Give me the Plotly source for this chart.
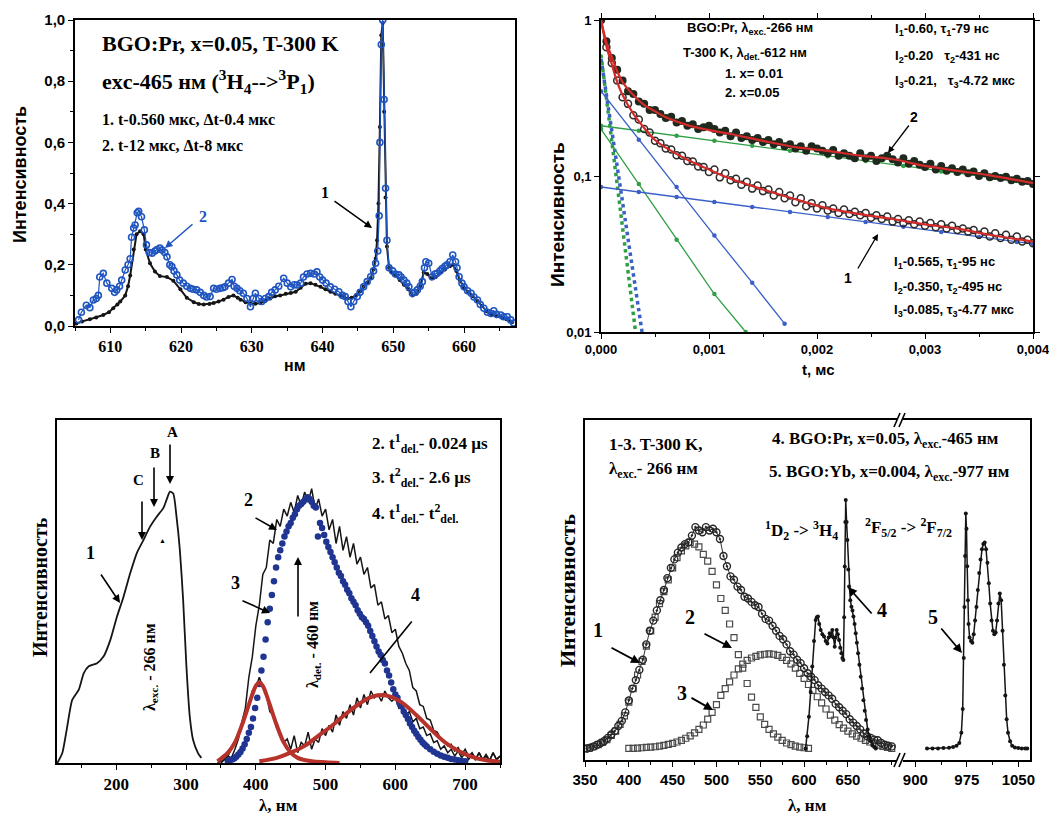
import plotly.graph_objects as go

W, H = 1057, 816
OFF = 8            # the page body margin shifts the figure by 8 px
FW, FH = W - OFF, H - OFF
def px(x): return (x - OFF) / FW
def py(y): return 1 - (y - OFF) / FH

SERIF = "Liberation Serif"
SANS = "Liberation Sans"

# ---------------- Panel 1 (top-left): time-resolved spectra ----------------
p1_xticks = [610, 620, 630, 640, 650, 660]
p1_yticks = [0.0, 0.2, 0.4, 0.6, 0.8, 1.0]
p1_yticklabels = ["0,0", "0,2", "0,4", "0,6", "0,8", "1,0"]
p1_curve1 = [(605.2,0.008),(606.0,0.015),(607.1,0.022),(608.0,0.028),(609.0,0.036),(609.8,0.045),(610.4,0.058),(611.0,0.07),(611.4,0.08),(612.1,0.10),(612.5,0.13),(612.8,0.165),(613.3,0.25),(613.7,0.30),(614.2,0.31),(614.7,0.30),(615.0,0.25),(615.6,0.205),(616.3,0.178),(617.0,0.163),(618.0,0.16),(618.9,0.148),(619.9,0.12),(620.8,0.092),(621.8,0.078),(622.5,0.072),(623.2,0.07),(624.0,0.072),(624.6,0.075),(625.3,0.08),(626.0,0.086),(626.7,0.095),(627.4,0.10),(628.0,0.092),(628.4,0.086),(629.1,0.078),(629.8,0.074),(630.5,0.073),(631.2,0.075),(631.9,0.082),(632.6,0.09),(633.3,0.097),(634.0,0.10),(634.8,0.105),(635.5,0.108),(636.2,0.112),(636.9,0.125),(637.6,0.138),(638.3,0.14),(639.0,0.135),(639.7,0.128),(640.4,0.12),(641.1,0.112),(641.8,0.105),(642.5,0.10),(643.0,0.095),(643.5,0.09),(644.1,0.092),(644.7,0.10),(645.3,0.113),(645.8,0.128),(646.3,0.142),(646.8,0.157),(647.2,0.185),(647.5,0.22),(647.7,0.28),(647.9,0.40),(648.1,0.65),(648.3,0.95),(648.5,0.99),(648.7,0.70),(648.9,0.42),(649.1,0.26),(649.4,0.19),(649.8,0.175),(650.3,0.165),(650.9,0.15),(651.5,0.135),(652.1,0.12),(652.7,0.10),(653.3,0.105),(653.8,0.13),(654.3,0.175),(654.8,0.17),(655.4,0.155),(656.0,0.16),(656.7,0.175),(657.3,0.185),(658.0,0.195),(658.5,0.20),(658.9,0.18),(659.4,0.15),(660.0,0.125),(660.6,0.11),(661.2,0.098),(661.9,0.082),(662.5,0.065),(663.2,0.048),(663.9,0.038),(664.6,0.032),(665.3,0.028),(666.0,0.022),(666.8,0.012)]
p1_curve2 = [(605.5,0.02),(605.9,0.045),(606.6,0.068),(607.1,0.06),(607.6,0.085),(608.0,0.09),(608.3,0.10),(608.5,0.16),(609.0,0.172),(609.5,0.14),(610.2,0.123),(610.6,0.11),(610.9,0.118),(611.3,0.13),(611.6,0.15),(612.1,0.183),(612.5,0.20),(612.8,0.22),(613.0,0.29),(613.3,0.32),(613.5,0.33),(613.8,0.37),(614.0,0.375),(614.4,0.357),(614.8,0.314),(615.1,0.265),(615.5,0.24),(615.9,0.238),(616.3,0.245),(616.6,0.25),(617.0,0.255),(617.3,0.248),(617.7,0.24),(618.0,0.226),(618.4,0.20),(618.7,0.194),(619.0,0.18),(619.4,0.167),(619.8,0.15),(620.3,0.14),(620.8,0.13),(621.3,0.123),(621.7,0.12),(622.2,0.118),(622.7,0.11),(623.2,0.10),(623.6,0.095),(624.1,0.096),(624.6,0.123),(625.0,0.12),(625.5,0.123),(625.9,0.125),(626.2,0.128),(626.7,0.14),(627.2,0.152),(627.5,0.13),(627.9,0.123),(628.3,0.115),(628.8,0.107),(629.3,0.09),(629.8,0.063),(630.2,0.09),(630.5,0.107),(631.0,0.09),(631.4,0.08),(631.9,0.09),(632.4,0.096),(632.8,0.11),(633.3,0.118),(633.8,0.13),(634.5,0.156),(635.0,0.14),(635.5,0.128),(636.0,0.135),(636.4,0.134),(636.9,0.14),(637.3,0.16),(637.8,0.17),(638.3,0.172),(638.8,0.17),(639.2,0.177),(639.6,0.16),(640.0,0.15),(640.5,0.14),(641.1,0.128),(641.7,0.12),(642.3,0.112),(642.8,0.10),(643.2,0.096),(643.6,0.08),(644.0,0.063),(644.4,0.08),(644.9,0.096),(645.3,0.11),(645.8,0.128),(646.3,0.145),(646.8,0.161),(647.2,0.18),(647.5,0.205),(647.8,0.245),(648.0,0.36),(648.1,0.60),(648.3,0.92),(648.5,1.0),(648.7,0.74),(648.9,0.45),(649.1,0.28),(649.4,0.19),(649.9,0.18),(650.3,0.17),(650.8,0.167),(651.1,0.16),(651.5,0.15),(651.9,0.14),(652.2,0.128),(652.7,0.107),(653.0,0.11),(653.4,0.118),(653.8,0.13),(654.1,0.145),(654.4,0.19),(654.6,0.21),(655.0,0.205),(655.5,0.161),(655.9,0.17),(656.2,0.172),(656.6,0.18),(656.9,0.188),(657.3,0.195),(657.6,0.20),(658.0,0.21),(658.4,0.232),(658.8,0.21),(659.0,0.19),(659.3,0.161),(659.7,0.14),(660.0,0.128),(660.5,0.115),(661.0,0.107),(661.4,0.095),(661.9,0.085),(662.3,0.07),(662.8,0.058),(663.3,0.045),(663.8,0.041),(664.2,0.05),(664.6,0.038),(665.2,0.036),(665.6,0.03),(666.1,0.03),(666.6,0.02),(667.0,0.01)]

# ---------------- Panel 2 (top-right): decay kinetics ----------------
p2_xticks = [0.0, 0.001, 0.002, 0.003, 0.004]
p2_xticklabels = ["0,000", "0,001", "0,002", "0,003", "0,004"]
p2_yticks = [0.01, 0.1, 1]
p2_yticklabels = ["0,01", "0,1", "1"]
p2_data_x005 = [(0.0,1.0),(0.00005,0.73),(0.0001,0.57),(0.00015,0.48),(0.0002,0.41),(0.00025,0.35),(0.0003,0.335),(0.00035,0.30),(0.0004,0.29),(0.00045,0.265),(0.0005,0.265),(0.00055,0.25),(0.0006,0.235),(0.00065,0.24),(0.0007,0.22),(0.00075,0.225),(0.0008,0.21),(0.00085,0.215),(0.0009,0.20),(0.00095,0.205),(0.001,0.21),(0.00105,0.20),(0.0011,0.19),(0.00115,0.195),(0.0012,0.18),(0.00125,0.19),(0.0013,0.175),(0.00135,0.18),(0.0014,0.17),(0.00145,0.175),(0.0015,0.165),(0.00155,0.17),(0.0016,0.16),(0.00165,0.165),(0.0017,0.155),(0.00175,0.16),(0.0018,0.15),(0.00185,0.155),(0.0019,0.145),(0.00195,0.155),(0.002,0.15),(0.00205,0.145),(0.0021,0.14),(0.00215,0.147),(0.0022,0.135),(0.00225,0.14),(0.0023,0.135),(0.00235,0.13),(0.0024,0.14),(0.00245,0.13),(0.0025,0.135),(0.00255,0.125),(0.0026,0.13),(0.00265,0.135),(0.0027,0.128),(0.00275,0.122),(0.0028,0.13),(0.00285,0.12),(0.0029,0.125),(0.00295,0.118),(0.003,0.114),(0.00305,0.12),(0.0031,0.11),(0.00315,0.116),(0.0032,0.108),(0.00325,0.112),(0.0033,0.106),(0.00335,0.11),(0.0034,0.104),(0.00345,0.107),(0.0035,0.1),(0.00355,0.104),(0.0036,0.098),(0.00365,0.1),(0.0037,0.097),(0.00375,0.099),(0.0038,0.094),(0.00385,0.096),(0.0039,0.092),(0.00395,0.093),(0.004,0.089)]
p2_data_x001 = [(0.0,1.0),(0.00005,0.67),(0.0001,0.53),(0.00015,0.41),(0.0002,0.32),(0.00025,0.29),(0.0003,0.245),(0.00035,0.23),(0.0004,0.20),(0.00045,0.19),(0.0005,0.168),(0.00055,0.162),(0.0006,0.15),(0.00065,0.148),(0.0007,0.136),(0.00075,0.135),(0.0008,0.125),(0.00085,0.124),(0.0009,0.115),(0.00095,0.114),(0.001,0.106),(0.00105,0.11),(0.0011,0.098),(0.00115,0.104),(0.0012,0.094),(0.00125,0.096),(0.0013,0.088),(0.00135,0.092),(0.0014,0.083),(0.00145,0.087),(0.0015,0.08),(0.00155,0.082),(0.0016,0.075),(0.00165,0.079),(0.0017,0.072),(0.00175,0.075),(0.0018,0.068),(0.00185,0.072),(0.0019,0.064),(0.00195,0.067),(0.002,0.062),(0.00205,0.065),(0.0021,0.06),(0.00215,0.062),(0.0022,0.058),(0.00225,0.061),(0.0023,0.057),(0.00235,0.059),(0.0024,0.056),(0.00245,0.058),(0.0025,0.054),(0.00255,0.056),(0.0026,0.053),(0.00265,0.055),(0.0027,0.051),(0.00275,0.053),(0.0028,0.05),(0.00285,0.052),(0.0029,0.049),(0.00295,0.051),(0.003,0.048),(0.00305,0.05),(0.0031,0.047),(0.00315,0.049),(0.0032,0.046),(0.00325,0.048),(0.0033,0.045),(0.00335,0.046),(0.0034,0.044),(0.00345,0.045),(0.0035,0.042),(0.00355,0.044),(0.0036,0.041),(0.00365,0.043),(0.0037,0.04),(0.00375,0.042),(0.0038,0.039),(0.00385,0.041),(0.0039,0.038),(0.00395,0.039),(0.004,0.037)]
p2_fit_t = [0, 0.00005, 0.0001, 0.00015, 0.0002, 0.0003, 0.0004, 0.0005, 0.0006, 0.0008, 0.001, 0.0012, 0.0015, 0.0018, 0.0021, 0.0024, 0.0027, 0.003, 0.0033, 0.0036, 0.004]
p2_fit_x005 = [1.0, 0.72, 0.58, 0.47, 0.40, 0.33, 0.285, 0.26, 0.238, 0.212, 0.197, 0.186, 0.168, 0.153, 0.145, 0.135, 0.128, 0.116, 0.108, 0.101, 0.090]
p2_fit_x001 = [1.0, 0.68, 0.52, 0.40, 0.33, 0.25, 0.203, 0.17, 0.152, 0.127, 0.11, 0.096, 0.082, 0.071, 0.062, 0.057, 0.053, 0.049, 0.046, 0.042, 0.038]
# decay components (x=0.05 green, x=0.01 blue)
p2_g1_t, p2_g1_v = [0.0, 0.00032], [0.60, 0.01]
p2_g2_t, p2_g2_v = [0.0, 0.00035, 0.0007, 0.00105, 0.00134], [0.20, 0.089, 0.039, 0.0175, 0.01]
p2_g3_t = [0.0, 0.00035, 0.0007, 0.00105, 0.0014, 0.00175, 0.0021, 0.00245, 0.0028, 0.00315, 0.0035, 0.00385, 0.004]
p2_g3_v = [0.21, 0.195, 0.181, 0.168, 0.156, 0.145, 0.134, 0.125, 0.116, 0.107, 0.1, 0.093, 0.091]
p2_b1_t, p2_b1_v = [0.0, 0.00038], [0.565, 0.01]
p2_b2_t, p2_b2_v = [0.0, 0.00035, 0.0007, 0.00105, 0.0014, 0.0017], [0.35, 0.171, 0.085, 0.0415, 0.0207, 0.0113]
p2_b3_t = [0.0, 0.00035, 0.0007, 0.00105, 0.0014, 0.00175, 0.0021, 0.00245, 0.0028, 0.00315, 0.0035, 0.00385, 0.004]
p2_b3_v = [0.085, 0.079, 0.0734, 0.0682, 0.0633, 0.0588, 0.0546, 0.0508, 0.0472, 0.0438, 0.0407, 0.0378, 0.0367]

# ---------------- Panel 3 (bottom-left): excitation / emission ----------------
p3_xticks = [200, 300, 400, 500, 600, 700]
p3_curve1 = [(115.5,0.0),(122.6,0.029),(129.7,0.107),(136.8,0.184),(146.3,0.214),(153.4,0.262),(160.5,0.282),(172.4,0.291),(181.9,0.311),(191.5,0.359),(201.0,0.427),(210.4,0.485),(219.9,0.553),(229.4,0.612),(238.9,0.65),(248.4,0.689),(257.9,0.718),(267.4,0.743),(272.0,0.767),(276.9,0.791),(281.6,0.786),(286.3,0.718),(291.1,0.621),(295.8,0.476),(300.5,0.282),(305.3,0.136),(310.0,0.068),(317.1,0.029),(321.9,0.015)]
p3_curve2 = [(345,0.0),(350,0.005),(355,0.01),(360,0.02),(365,0.015),(370,0.04),(375,0.07),(380,0.12),(385,0.16),(390,0.25),(395,0.31),(400,0.40),(405,0.46),(410,0.55),(415,0.57),(420,0.65),(425,0.64),(430,0.71),(435,0.69),(440,0.74),(445,0.72),(450,0.76),(455,0.73),(460,0.78),(465,0.75),(470,0.79),(475,0.76),(480,0.80),(485,0.74),(490,0.77),(495,0.72),(500,0.74),(505,0.68),(510,0.71),(515,0.64),(520,0.69),(525,0.62),(530,0.66),(535,0.60),(540,0.64),(545,0.58),(550,0.60),(555,0.55),(560,0.57),(565,0.51),(570,0.52),(575,0.46),(580,0.47),(585,0.42),(590,0.43),(595,0.38),(600,0.39),(605,0.34),(610,0.32),(615,0.29),(620,0.27),(625,0.22),(630,0.21),(635,0.17),(640,0.165),(645,0.13),(650,0.125),(655,0.095),(660,0.09),(665,0.07),(670,0.065),(675,0.05),(680,0.055),(685,0.035),(690,0.045),(695,0.025),(700,0.04),(705,0.02),(710,0.03),(715,0.012),(720,0.03),(725,0.01),(730,0.025),(735,0.008),(740,0.03),(745,0.01),(750,0.02)]
p3_curve3 = [(360,0.005),(363,0.008),(366,0.01),(369,0.013),(372,0.018),(375,0.025),(378,0.032),(381,0.042),(384,0.055),(387,0.07),(390,0.088),(393,0.105),(396,0.13),(399,0.16),(402,0.19),(405,0.23),(408,0.27),(411,0.31),(414,0.36),(417,0.41),(420,0.45),(423,0.49),(426,0.53),(429,0.57),(432,0.60),(435,0.62),(438,0.64),(441,0.66),(444,0.675),(447,0.69),(450,0.70),(453,0.715),(456,0.725),(459,0.74),(462,0.75),(465,0.755),(468,0.762),(471,0.768),(474,0.775),(477,0.77),(480,0.762),(483,0.75),(486,0.745),(489,0.66),(492,0.70),(495,0.685),(498,0.665),(501,0.645),(504,0.63),(507,0.615),(510,0.60),(513,0.585),(516,0.57),(519,0.555),(522,0.545),(525,0.53),(528,0.52),(531,0.505),(534,0.495),(537,0.48),(540,0.47),(543,0.46),(546,0.445),(549,0.435),(552,0.425),(555,0.42),(558,0.41),(561,0.40),(564,0.385),(567,0.37),(570,0.355),(573,0.34),(576,0.325),(579,0.315),(582,0.30),(585,0.29),(588,0.27),(591,0.255),(594,0.235),(597,0.215),(600,0.20),(603,0.19),(606,0.175),(609,0.165),(612,0.15),(615,0.14),(618,0.128),(621,0.115),(624,0.105),(627,0.094),(630,0.085),(633,0.076),(636,0.068),(639,0.06),(642,0.054),(645,0.048),(650,0.04),(655,0.033),(660,0.027),(665,0.022),(670,0.018),(675,0.015),(680,0.012),(685,0.01),(690,0.008),(695,0.006),(700,0.005)]
p3_curve4 = [(350,0.0),(355,0.01),(360,0.02),(365,0.04),(370,0.06),(375,0.08),(380,0.11),(385,0.14),(390,0.17),(395,0.21),(400,0.22),(405,0.25),(410,0.22),(415,0.20),(420,0.15),(425,0.14),(430,0.10),(435,0.09),(440,0.06),(445,0.07),(450,0.04),(455,0.08),(460,0.03),(465,0.06),(470,0.05),(475,0.09),(480,0.04),(485,0.07),(490,0.06),(495,0.10),(500,0.08),(505,0.11),(510,0.09),(515,0.14),(520,0.11),(525,0.15),(530,0.13),(535,0.17),(540,0.14),(545,0.19),(550,0.16),(555,0.20),(560,0.17),(565,0.21),(570,0.19),(575,0.20),(580,0.18),(585,0.21),(590,0.19),(595,0.18),(600,0.19),(605,0.16),(610,0.17),(615,0.14),(620,0.15),(625,0.12),(630,0.13),(635,0.10),(640,0.105),(645,0.08),(650,0.085),(655,0.06),(660,0.065),(665,0.04),(670,0.05),(675,0.03),(680,0.04),(685,0.02),(690,0.035),(695,0.015),(700,0.03),(705,0.01),(710,0.025),(715,0.008),(720,0.03),(725,0.01),(730,0.02),(735,0.005),(740,0.03),(745,0.01),(750,0.02)]
p3_fit3_x = [345, 360, 370, 380, 390, 395, 400, 405, 410, 415, 420, 430, 440, 450, 460, 480, 500, 520]
p3_fit3_y = [0.005, 0.03, 0.06, 0.11, 0.17, 0.20, 0.225, 0.235, 0.225, 0.20, 0.17, 0.11, 0.06, 0.03, 0.015, 0.005, 0.002, 0.0]
p3_fit4_x = [405, 430, 450, 470, 490, 510, 530, 550, 565, 580, 595, 610, 630, 650, 670, 690, 710, 730, 750]
p3_fit4_y = [0.005, 0.015, 0.03, 0.05, 0.08, 0.11, 0.145, 0.175, 0.192, 0.198, 0.192, 0.175, 0.14, 0.10, 0.062, 0.036, 0.018, 0.008, 0.004]

# ---------------- Panel 4 (bottom-right): broken-axis spectra ----------------
p4_xticks_left = [350, 400, 450, 500, 550, 600, 650]
p4_xticks_right = [900, 975, 1050]
p4_curve1 = [(352,0.034),(356,0.036),(360,0.04),(364,0.045),(368,0.05),(372,0.056),(376,0.065),(380,0.075),(384,0.085),(388,0.10),(392,0.115),(396,0.14),(400,0.175),(404,0.21),(408,0.235),(412,0.265),(416,0.295),(420,0.34),(424,0.38),(428,0.41),(432,0.44),(436,0.47),(440,0.50),(444,0.535),(448,0.565),(452,0.59),(456,0.61),(460,0.625),(464,0.635),(468,0.64),(472,0.66),(476,0.685),(480,0.675),(484,0.67),(488,0.685),(492,0.675),(496,0.68),(500,0.67),(504,0.65),(508,0.60),(512,0.57),(516,0.54),(520,0.53),(524,0.51),(528,0.50),(532,0.48),(536,0.475),(540,0.465),(544,0.455),(548,0.45),(552,0.43),(556,0.415),(560,0.41),(564,0.395),(568,0.38),(572,0.365),(576,0.355),(580,0.34),(584,0.32),(588,0.31),(592,0.295),(596,0.285),(600,0.27),(604,0.255),(608,0.245),(612,0.235),(616,0.22),(620,0.21),(624,0.20),(628,0.19),(632,0.18),(636,0.165),(640,0.155),(644,0.145),(648,0.135),(652,0.12),(656,0.11),(660,0.10),(664,0.09),(668,0.078),(672,0.07),(676,0.065),(680,0.06),(684,0.058),(688,0.05),(692,0.045),(696,0.042),(700,0.04)]
p4_curve2 = [(350,0.033),(355,0.035),(360,0.039),(365,0.045),(370,0.052),(375,0.06),(380,0.072),(385,0.085),(390,0.105),(395,0.13),(400,0.17),(405,0.21),(410,0.25),(415,0.29),(420,0.335),(425,0.38),(430,0.42),(435,0.46),(440,0.495),(445,0.53),(450,0.565),(455,0.595),(460,0.615),(465,0.63),(470,0.64),(475,0.635),(480,0.627),(485,0.605),(490,0.585),(495,0.555),(500,0.515),(505,0.475),(510,0.44),(515,0.40),(520,0.36),(525,0.31),(530,0.27),(535,0.225),(540,0.185),(545,0.155),(550,0.127),(555,0.105),(560,0.09),(565,0.077),(570,0.067),(575,0.058),(580,0.05),(585,0.045),(590,0.041),(595,0.038),(600,0.036),(605,0.034)]
p4_curve3 = [(400,0.034),(405,0.034),(410,0.035),(415,0.036),(420,0.037),(425,0.038),(430,0.039),(435,0.041),(440,0.043),(445,0.046),(450,0.049),(455,0.053),(460,0.058),(465,0.064),(470,0.071),(475,0.08),(480,0.09),(485,0.103),(490,0.12),(495,0.14),(500,0.163),(505,0.19),(510,0.21),(515,0.23),(520,0.25),(525,0.268),(530,0.282),(535,0.293),(540,0.30),(545,0.305),(550,0.309),(555,0.311),(560,0.312),(565,0.311),(570,0.308),(575,0.302),(580,0.293),(585,0.283),(590,0.27),(595,0.255),(600,0.24),(605,0.222),(610,0.205),(615,0.186),(620,0.168),(625,0.15),(630,0.132),(635,0.117),(640,0.104),(645,0.094),(650,0.085),(655,0.077),(660,0.07),(665,0.064),(670,0.058),(675,0.053),(680,0.048),(685,0.044),(690,0.04),(695,0.037),(700,0.034)]
p4_curve4 = [(601.7,0.034),(603.5,0.07),(605.5,0.127),(607.5,0.2),(609.3,0.275),(611.3,0.35),(613.2,0.412),(614.5,0.42),(615.8,0.422),(617.3,0.40),(618.9,0.382),(620.8,0.37),(622.7,0.363),(624.6,0.35),(626.5,0.343),(628.0,0.36),(629.2,0.373),(630.7,0.365),(632.2,0.382),(633.5,0.36),(634.9,0.333),(636.0,0.36),(637.2,0.382),(638.5,0.37),(639.9,0.353),(641.2,0.33),(642.5,0.314),(643.7,0.30),(644.8,0.294),(645.7,0.42),(646.4,0.569),(647.0,0.70),(647.5,0.765),(648.5,0.70),(649.4,0.647),(650.4,0.56),(651.3,0.51),(652.7,0.47),(654.0,0.451),(655.2,0.44),(656.3,0.422),(657.6,0.40),(658.9,0.373),(660.2,0.345),(661.6,0.314),(663.1,0.28),(664.6,0.245),(666.2,0.21),(667.7,0.176),(669.2,0.145),(670.7,0.118),(672.5,0.09),(674.2,0.069),(676.1,0.055),(678.0,0.044),(680.0,0.038),(681.8,0.034)]
p4_curve5 = [(917,0.034),(925,0.034),(933,0.034),(941,0.035),(949,0.036),(955,0.038),(960,0.042),(964,0.05),(967,0.08),(969,0.15),(970.5,0.3),(971.5,0.45),(972.5,0.6),(973.5,0.725),(974.5,0.68),(975.5,0.57),(976.5,0.47),(977.5,0.40),(979,0.36),(981,0.35),(983,0.345),(985,0.37),(987,0.41),(989,0.45),(991,0.50),(993,0.55),(995,0.59),(997,0.62),(999,0.635),(1001,0.64),(1003,0.62),(1005,0.58),(1007,0.52),(1009,0.46),(1011,0.41),(1013,0.38),(1015,0.37),(1017,0.375),(1019,0.41),(1021,0.46),(1023,0.49),(1025,0.47),(1027,0.38),(1029,0.28),(1031,0.19),(1033,0.12),(1035,0.08),(1038,0.055),(1041,0.042),(1045,0.037),(1050,0.035),(1055,0.034),(1060,0.034),(1063,0.034)]

def xs(p): return [a for a, b in p]
def ys(p): return [b for a, b in p]

BLACK = "#151515"
BLUE1 = "#1f55c0"
RED = "#d42a2a"
GREEN = "#2f9e44"
BLUE2 = "#3a5fc8"
NAVY = "#1f3591"
BROWN_RED = "#b8322c"

fig = go.Figure()

# Panel 1
fig.add_trace(go.Scatter(x=xs(p1_curve1), y=ys(p1_curve1), mode="lines+markers",
                         line=dict(color=BLACK, width=2), marker=dict(color=BLACK, size=4),
                         xaxis="x", yaxis="y"))
fig.add_trace(go.Scatter(x=xs(p1_curve2), y=ys(p1_curve2), mode="lines+markers",
                         line=dict(color=BLUE1, width=1.2),
                         marker=dict(symbol="circle-open", size=6, color=BLUE1, line=dict(width=1.6)),
                         xaxis="x", yaxis="y"))

# Panel 2 components
fig.add_trace(go.Scatter(x=p2_g1_t, y=p2_g1_v, mode="lines", line=dict(color=GREEN, width=3.5, dash="dot"), xaxis="x2", yaxis="y2"))
fig.add_trace(go.Scatter(x=p2_b1_t, y=p2_b1_v, mode="lines", line=dict(color=BLUE2, width=3.5, dash="dot"), xaxis="x2", yaxis="y2"))
for tt, vv, cc in [(p2_g2_t, p2_g2_v, GREEN), (p2_g3_t, p2_g3_v, GREEN), (p2_b2_t, p2_b2_v, BLUE2), (p2_b3_t, p2_b3_v, BLUE2)]:
    fig.add_trace(go.Scatter(x=tt, y=vv, mode="lines+markers", line=dict(color=cc, width=1.3),
                             marker=dict(color=cc, size=4.5), xaxis="x2", yaxis="y2"))
fig.add_trace(go.Scatter(x=xs(p2_data_x001), y=ys(p2_data_x001), mode="markers",
                         marker=dict(symbol="circle-open", size=7, color="#2a2a2a", line=dict(width=1.5)),
                         xaxis="x2", yaxis="y2"))
fig.add_trace(go.Scatter(x=xs(p2_data_x005), y=ys(p2_data_x005), mode="markers",
                         marker=dict(symbol="circle", size=8, color="#1e2a1e"),
                         xaxis="x2", yaxis="y2"))
fig.add_trace(go.Scatter(x=p2_fit_t, y=p2_fit_x005, mode="lines", line=dict(color=RED, width=2.2, shape="spline"), xaxis="x2", yaxis="y2"))
fig.add_trace(go.Scatter(x=p2_fit_t, y=p2_fit_x001, mode="lines", line=dict(color=RED, width=2.2, shape="spline"), xaxis="x2", yaxis="y2"))

# Panel 3
fig.add_trace(go.Scatter(x=xs(p3_curve1), y=ys(p3_curve1), mode="lines", line=dict(color=BLACK, width=1.8, shape="spline", smoothing=0.6), xaxis="x3", yaxis="y3"))
fig.add_trace(go.Scatter(x=xs(p3_curve2), y=ys(p3_curve2), mode="lines", line=dict(color=BLACK, width=1.5), xaxis="x3", yaxis="y3"))
fig.add_trace(go.Scatter(x=xs(p3_curve4), y=ys(p3_curve4), mode="lines", line=dict(color=BLACK, width=1.5), xaxis="x3", yaxis="y3"))
fig.add_trace(go.Scatter(x=xs(p3_curve3), y=ys(p3_curve3), mode="markers", marker=dict(color=NAVY, size=6.5), xaxis="x3", yaxis="y3"))
fig.add_trace(go.Scatter(x=p3_fit3_x, y=p3_fit3_y, mode="lines", line=dict(color=BROWN_RED, width=4, shape="spline"), xaxis="x3", yaxis="y3"))
fig.add_trace(go.Scatter(x=p3_fit4_x, y=p3_fit4_y, mode="lines", line=dict(color=BROWN_RED, width=4, shape="spline"), xaxis="x3", yaxis="y3"))

# Panel 4
fig.add_trace(go.Scatter(x=xs(p4_curve3), y=ys(p4_curve3), mode="markers",
                         marker=dict(symbol="square-open", size=6, color="#4a4a4a", line=dict(width=1.2)), xaxis="x4", yaxis="y4"))
fig.add_trace(go.Scatter(x=xs(p4_curve2), y=ys(p4_curve2), mode="markers",
                         marker=dict(symbol="square-open", size=6, color="#4a4a4a", line=dict(width=1.2)), xaxis="x4", yaxis="y4"))
fig.add_trace(go.Scatter(x=xs(p4_curve1), y=ys(p4_curve1), mode="lines+markers", line=dict(color="#333333", width=1),
                         marker=dict(symbol="circle-open-dot", size=7, color="#262626", line=dict(width=1.4)), xaxis="x4", yaxis="y4"))
fig.add_trace(go.Scatter(x=xs(p4_curve4), y=ys(p4_curve4), mode="lines+markers", line=dict(color=BLACK, width=1.5),
                         marker=dict(color=BLACK, size=4), xaxis="x4", yaxis="y4"))
fig.add_trace(go.Scatter(x=xs(p4_curve5), y=ys(p4_curve5), mode="lines+markers", line=dict(color=BLACK, width=1.5),
                         marker=dict(color=BLACK, size=4), xaxis="x5", yaxis="y5"))

ax_common = dict(showline=True, linecolor="black", linewidth=1.6, showgrid=False, zeroline=False,
                 ticks="outside", tickcolor="black", tickwidth=1.4, ticklen=5, automargin=False)

def tf(fam, size):
    return dict(family=fam, size=size, color="black", weight="bold")

fig.update_layout(
    width=FW, height=FH, margin=dict(l=0, r=0, t=0, b=0, autoexpand=False),
    paper_bgcolor="white", plot_bgcolor="white", showlegend=False, separators=",.",
    xaxis=dict(ax_common, domain=[px(75), px(515)], range=[605, 667.2], anchor="y", mirror=True,
               tickvals=p1_xticks, ticktext=[str(v) for v in p1_xticks], tickfont=tf(SERIF, 16),
               minor=dict(dtick=5, tick0=605, ticks="outside", ticklen=3, tickcolor="black")),
    yaxis=dict(ax_common, domain=[py(326), py(20)], range=[0, 1], anchor="x", mirror=True,
               tickvals=p1_yticks, ticktext=p1_yticklabels, tickfont=tf(SANS, 15),
               minor=dict(dtick=0.1, tick0=0, ticks="outside", ticklen=3, tickcolor="black")),
    xaxis2=dict(ax_common, domain=[px(601), px(1033)], range=[0, 0.004], anchor="y2", mirror="ticks",
                tickvals=p2_xticks, ticktext=p2_xticklabels, tickfont=tf(SANS, 13),
                minor=dict(dtick=0.0005, tick0=0, ticks="outside", ticklen=3, tickcolor="black")),
    yaxis2=dict(ax_common, domain=[py(332), py(20)], type="log", range=[-2, 0], anchor="x2", mirror="ticks",
                tickvals=p2_yticks, ticktext=p2_yticklabels, tickfont=tf(SANS, 13)),
    xaxis3=dict(ax_common, domain=[px(57), px(500)], range=[115, 750], anchor="y3", mirror=True,
                tickvals=p3_xticks, ticktext=[str(v) for v in p3_xticks], tickfont=tf(SERIF, 17),
                minor=dict(dtick=50, tick0=100, ticks="outside", ticklen=3, tickcolor="black")),
    yaxis3=dict(ax_common, domain=[py(763), py(420)], range=[0, 1], anchor="x3", mirror=True,
                ticks="", showticklabels=False),
    xaxis4=dict(ax_common, domain=[px(585), px(897)], range=[350, 706], anchor="y4", mirror=True,
                tickvals=p4_xticks_left, ticktext=[str(v) for v in p4_xticks_left], tickfont=tf(SANS, 15),
                minor=dict(dtick=25, tick0=350, ticks="outside", ticklen=3, tickcolor="black")),
    yaxis4=dict(ax_common, domain=[py(760), py(420)], range=[0, 1], anchor="x4", mirror=False,
                ticks="", showticklabels=False),
    xaxis5=dict(ax_common, domain=[px(903), px(1030)], range=[882, 1067], anchor="y5", mirror=True,
                tickvals=p4_xticks_right, ticktext=[str(v) for v in p4_xticks_right], tickfont=tf(SANS, 15),
                minor=dict(dtick=37.5, tick0=900, ticks="outside", ticklen=3, tickcolor="black")),
    yaxis5=dict(ax_common, domain=[py(760), py(420)], range=[0, 1], anchor="x5", side="right", mirror=False,
                ticks="", showticklabels=False),
)

def txt(x, y, s, size, fam=SERIF, color="black", xa="left", ya="middle", angle=0):
    return dict(x=px(x), y=py(y), xref="paper", yref="paper", text=s, showarrow=False,
                font=dict(family=fam, size=size, color=color, weight="bold"),
                xanchor=xa, yanchor=ya, textangle=angle)

def arrow(x0, y0, x1, y1, color="black", head=2, width=1.5, size=1.0):
    return dict(x=px(x1), y=py(y1), xref="paper", yref="paper", ax=x0 - x1, ay=y0 - y1,
                axref="pixel", ayref="pixel", text="", showarrow=True, arrowhead=head,
                arrowsize=size, arrowwidth=width, arrowcolor=color)

anns = []
# Panel 1 texts
anns += [
    txt(100, 43, "BGO:Pr, x=0.05, T-300 K", 22),
    txt(100, 82, "exc-465 нм (<sup>3</sup>H<sub>4</sub>--><sup>3</sup>P<sub>1</sub>)", 22),
    txt(100, 119, "1. t-0.560 мкс, Δt-0.4 мкс", 16),
    txt(100, 145, "2. t-12 мкс, Δt-8 мкс", 16),
    txt(325, 193, "1", 16, xa="center"),
    arrow(333, 200, 372, 228, width=1.5),
    txt(203, 216, "2", 16, color=BLUE1, xa="center"),
    arrow(194, 223, 165, 248, color=BLUE1, width=1.5),
    txt(20, 175, "Интенсивность", 18, fam=SANS, xa="center", angle=-90),
    txt(295, 366, "нм", 16, fam=SANS, xa="center"),
]
# Panel 2 texts
anns += [
    txt(685, 28, "BGO:Pr, λ<sub>exc.</sub>-266 нм", 13, fam=SANS),
    txt(681, 53, "T-300 K, λ<sub>det.</sub>-612 нм", 13, fam=SANS),
    txt(723, 74, "1. x= 0.01", 13, fam=SANS),
    txt(723, 93, "2. x=0.05", 13, fam=SANS),
    txt(893, 29, "I<sub>1</sub>-0.60, τ<sub>1</sub>-79 нс", 13, fam=SANS),
    txt(893, 56, "I<sub>2</sub>-0.20   τ<sub>2</sub>-431 нс", 13, fam=SANS),
    txt(893, 82, "I<sub>3</sub>-0.21,   τ<sub>3</sub>-4.72 мкс", 13, fam=SANS),
    txt(892, 262, "I<sub>1</sub>-0.565, τ<sub>1</sub>-95 нс", 13, fam=SANS),
    txt(892, 287, "I<sub>2</sub>-0.350, τ<sub>2</sub>-495 нс", 13, fam=SANS),
    txt(892, 310, "I<sub>3</sub>-0.085, τ<sub>3</sub>-4.77 мкс", 13, fam=SANS),
    txt(914, 117, "2", 14, fam=SANS, xa="center"),
    arrow(910, 124, 888, 153, width=1.3),
    txt(848, 278, "1", 14, fam=SANS, xa="center"),
    arrow(857, 270, 878, 234, width=1.3),
    txt(557, 215, "Интенсивность", 19, fam=SANS, xa="center", angle=-90),
    txt(818, 369, "t, мс", 15, fam=SANS, xa="center"),
]
# Panel 3 texts
anns += [
    txt(172, 432, "A", 15, xa="center"),
    arrow(170, 443, 170, 484, width=1.6),
    txt(155, 453, "B", 15, xa="center"),
    arrow(154, 466, 154, 507, width=1.6),
    txt(138, 480, "C", 15, xa="center"),
    arrow(142, 500, 142, 540, width=1.6),
    txt(162, 541, "▲", 7, xa="center"),
    txt(90, 553, "1", 18, xa="center"),
    arrow(100, 573, 120, 603, width=1.6),
    txt(150, 667, "λ<sub>exc.</sub> - 266 нм", 16, xa="center", angle=-90),
    txt(248, 500, "2", 18, xa="center"),
    arrow(254, 517, 277, 530, width=1.6),
    txt(235, 583, "3", 18, xa="center"),
    arrow(241, 600, 270, 613, width=1.6),
    txt(415, 595, "4", 18, xa="center"),
    arrow(413, 620, 370, 673, width=1.6, head=0),
    arrow(298, 618, 298, 557, width=1.6),
    txt(313, 645, "λ<sub>det.</sub> - 460 нм", 16, xa="center", angle=-90),
    txt(370, 443, "2. t<sup>1</sup><sub>del.</sub>- 0.024 µs", 17),
    txt(370, 478, "3. t<sup>2</sup><sub>del.</sub>- 2.6 µs", 17),
    txt(370, 513, "4. t<sup>1</sup><sub>del.</sub>- t<sup>2</sup><sub>del.</sub>", 17),
    txt(40, 587, "Интенсивность", 20, xa="center", angle=-90),
    txt(278, 805, "λ, нм", 17, xa="center"),
]
# Panel 4 texts
anns += [
    txt(607, 444, "1-3. T-300 K,", 17),
    txt(607, 470, "λ<sub>exc.</sub>- 266 нм", 17),
    txt(770, 440, "4. BGO:Pr, x=0.05, λ<sub>exc.</sub>-465 нм", 17),
    txt(767, 473, "5. BGO:Yb, x=0.004, λ<sub>exc.</sub>-977 нм", 17),
    txt(763, 530, "<sup>1</sup>D<sub>2</sub> -> <sup>3</sup>H<sub>4</sub>", 17),
    txt(863, 527, "<sup>2</sup>F<sub>5/2</sub> -> <sup>2</sup>F<sub>7/2</sub>", 17),
    txt(598, 630, "1", 20, xa="center"),
    arrow(610, 647, 640, 663, width=1.8),
    txt(690, 617, "2", 20, xa="center"),
    arrow(703, 633, 732, 648, width=1.8),
    txt(682, 693, "3", 20, xa="center"),
    arrow(690, 697, 713, 710, width=1.8),
    txt(882, 610, "4", 20, xa="center"),
    arrow(873, 615, 848, 587, width=1.8),
    txt(933, 617, "5", 20, xa="center"),
    arrow(940, 627, 962, 653, width=1.8),
    txt(567, 590, "Интенсивность", 22, xa="center", angle=-90),
    txt(807, 805, "λ, нм", 17, xa="center"),
]
fig.update_layout(annotations=anns)

# axis-break marks for panel 4
shapes = []
for yb in (420, 760):
    for dx in (0, 5):
        shapes.append(dict(type="line", xref="paper", yref="paper",
                           x0=px(894 + dx), y0=py(yb + 7), x1=px(900 + dx), y1=py(yb - 7),
                           line=dict(color="black", width=1.6)))
fig.update_layout(shapes=shapes)

fig.write_html("out.html")
